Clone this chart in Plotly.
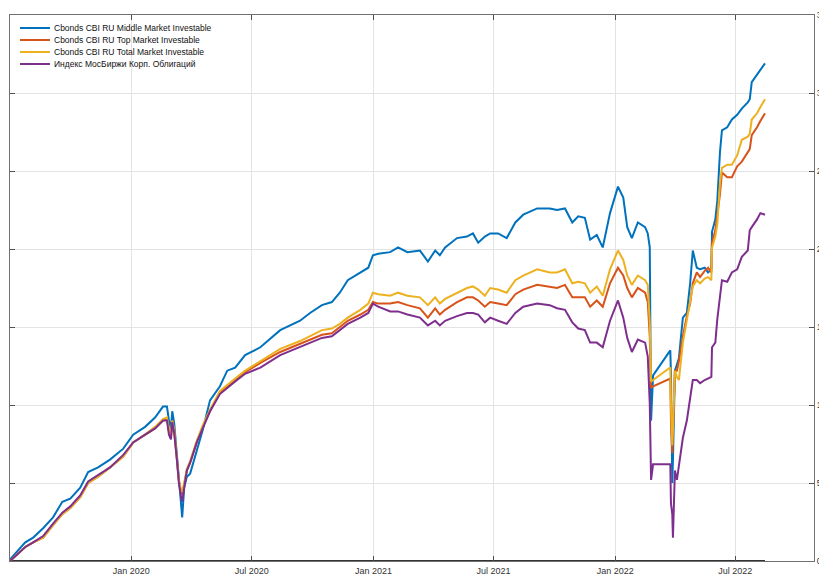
import plotly.graph_objects as go

dates = [
    "2019-07-02", "2019-07-25", "2019-08-06", "2019-08-21", "2019-09-05", "2019-09-19",
    "2019-10-01", "2019-10-16", "2019-10-28", "2019-11-12", "2019-11-30", "2019-12-20",
    "2020-01-04", "2020-01-22", "2020-02-06", "2020-02-18", "2020-02-24", "2020-02-27",
    "2020-03-01", "2020-03-03", "2020-03-06", "2020-03-10", "2020-03-13", "2020-03-16",
    "2020-03-18", "2020-03-21", "2020-03-25", "2020-03-30", "2020-04-09", "2020-04-18",
    "2020-04-29", "2020-05-14", "2020-05-25", "2020-06-06", "2020-06-21", "2020-07-14",
    "2020-08-13", "2020-09-12", "2020-09-27", "2020-10-15", "2020-10-30", "2020-11-11",
    "2020-11-23", "2020-12-12", "2020-12-24", "2020-12-31", "2021-01-08", "2021-01-26",
    "2021-02-07", "2021-02-21", "2021-03-12", "2021-03-24", "2021-04-04", "2021-04-11",
    "2021-04-19", "2021-05-07", "2021-05-22", "2021-05-31", "2021-06-08", "2021-06-18",
    "2021-06-26", "2021-07-08", "2021-07-21", "2021-08-03", "2021-08-15", "2021-09-05",
    "2021-09-24", "2021-10-05", "2021-10-17", "2021-10-28", "2021-11-06", "2021-11-16",
    "2021-11-24", "2021-12-04", "2021-12-13", "2021-12-24", "2022-01-05", "2022-01-13",
    "2022-01-19", "2022-01-26", "2022-02-04", "2022-02-15", "2022-02-19", "2022-02-22",
    "2022-02-24", "2022-02-27", "2022-03-25", "2022-03-26", "2022-03-28", "2022-03-29",
    "2022-04-01", "2022-04-04", "2022-04-07", "2022-04-13", "2022-04-19", "2022-04-24",
    "2022-04-28", "2022-05-04", "2022-05-09", "2022-05-16", "2022-05-21", "2022-05-26",
    "2022-05-27", "2022-06-01", "2022-06-04", "2022-06-08", "2022-06-11", "2022-06-19",
    "2022-06-26", "2022-07-04", "2022-07-11", "2022-07-20", "2022-07-23", "2022-07-26",
    "2022-08-03", "2022-08-08", "2022-08-15",
]

middle = [
    0.1, 1.2, 1.5, 2.1, 2.8, 3.8, 4.0, 4.7, 5.7, 6.0, 6.5, 7.2,
    8.1, 8.6, 9.2, 9.9, 9.9, 9.0, 8.5, 9.6, 8.8, 6.9, 5.0, 3.9,
    2.8, 4.7, 5.4, 5.6, 7.1, 8.4, 10.3, 11.2, 12.2, 12.4, 13.2, 13.7,
    14.8, 15.4, 15.9, 16.4, 16.6, 17.2, 18.0, 18.5, 18.8, 19.6, 19.7, 19.8,
    20.1, 19.8, 19.9, 19.2, 19.9, 19.6, 20.1, 20.7, 20.8, 21.0, 20.4, 20.8,
    21.0, 21.0, 20.7, 21.7, 22.2, 22.6, 22.6, 22.5, 22.6, 21.7, 22.1, 22.0,
    20.6, 20.9, 20.1, 22.3, 24.0, 23.3, 21.4, 20.7, 21.7, 21.4, 21.0, 20.1,
    9.0, 11.9, 13.5, 12.0, 5.0, 6.5, 12.2, 12.6, 13.0, 15.6, 15.9, 17.8,
    19.9, 18.8, 18.7, 18.8, 18.5, 18.7, 21.1, 21.9, 23.1, 26.2, 27.6, 27.8,
    28.3, 28.6, 29.0, 29.4, 29.6, 30.7, 31.2, 31.5, 31.9,
]

top = [
    0.0, 0.9, 1.2, 1.5, 2.3, 3.0, 3.4, 4.1, 5.0, 5.4, 6.0, 6.7,
    7.6, 8.1, 8.5, 9.0, 9.1, 8.3, 7.9, 9.0, 8.3, 6.5, 5.1, 4.5,
    4.3, 4.9, 5.8, 6.3, 7.6, 8.6, 9.6, 10.8, 11.2, 11.6, 12.1, 12.7,
    13.4, 13.9, 14.2, 14.5, 14.6, 15.0, 15.4, 15.8, 16.1, 16.6, 16.5, 16.5,
    16.6, 16.4, 16.2, 15.6, 16.2, 15.8, 16.1, 16.6, 16.9, 16.9, 16.7, 16.3,
    16.6, 16.5, 16.4, 17.1, 17.4, 17.7, 17.6, 17.5, 17.7, 16.9, 16.9, 16.9,
    16.3, 16.7, 16.3, 17.8, 18.8, 18.3, 17.5, 16.9, 17.5, 17.2, 16.6, 14.4,
    11.1, 11.2, 11.7, 9.0, 6.9, 8.0, 12.2, 12.2, 12.8, 14.4, 15.7, 16.5,
    17.8, 18.5, 18.2, 18.6, 18.8, 18.5, 20.4, 21.2, 22.1, 23.5, 24.9, 24.6,
    24.6, 25.3, 25.6, 26.2, 26.4, 27.3, 27.8, 28.2, 28.7,
]

total = [
    0.0, 0.9, 1.2, 1.5, 2.3, 3.0, 3.4, 4.1, 5.0, 5.4, 6.0, 6.7,
    7.6, 8.1, 8.6, 9.1, 9.2, 8.4, 8.0, 9.0, 8.4, 6.6, 5.2, 4.6,
    4.4, 5.0, 5.9, 6.4, 7.7, 8.7, 9.7, 10.9, 11.3, 11.7, 12.2, 12.8,
    13.6, 14.1, 14.4, 14.8, 14.9, 15.2, 15.6, 16.1, 16.5, 17.2, 17.1, 17.0,
    17.2, 17.0, 16.9, 16.4, 16.9, 16.5, 16.8, 17.2, 17.5, 17.6, 17.4, 17.0,
    17.5, 17.4, 17.2, 18.0, 18.3, 18.7, 18.5, 18.5, 18.7, 17.8, 17.9, 17.8,
    17.2, 17.6, 17.0, 18.7, 19.9, 19.3, 18.3, 17.7, 18.3, 18.0, 17.7, 15.3,
    11.5, 11.6, 12.4, 10.0, 7.4, 8.5, 12.2, 11.8, 11.6, 14.0, 15.5, 16.5,
    17.6, 18.0, 17.8, 18.1, 18.2, 18.0, 20.1, 20.8, 21.6, 24.2, 25.2, 25.4,
    25.4, 26.0, 27.0, 27.2, 27.4, 28.3, 28.7, 29.1, 29.6,
]

moex = [
    0.0, 0.9, 1.2, 1.6, 2.4, 3.1, 3.5, 4.2, 5.1, 5.5, 6.0, 6.8,
    7.6, 8.1, 8.5, 9.0, 9.0, 8.1, 7.8, 8.9, 8.2, 6.5, 5.0, 4.2,
    3.8, 4.7, 5.8, 6.3, 7.6, 8.5, 9.6, 10.7, 11.1, 11.5, 12.0, 12.4,
    13.2, 13.7, 14.0, 14.3, 14.4, 14.8, 15.2, 15.6, 15.9, 16.5, 16.3, 16.0,
    16.0, 15.8, 15.6, 15.1, 15.4, 15.1, 15.4, 15.7, 15.9, 15.9, 15.8, 15.3,
    15.6, 15.4, 15.2, 15.9, 16.3, 16.5, 16.4, 16.2, 16.1, 15.3, 14.9, 14.8,
    14.0, 14.0, 13.7, 15.4, 16.7, 15.6, 14.3, 13.4, 14.2, 14.0, 13.1, 10.1,
    5.2, 6.2, 6.2, 3.7, 3.0, 1.5, 5.8, 5.2, 6.0, 7.9, 9.0, 10.3,
    11.6, 11.6, 11.4, 11.6, 11.7, 11.8, 13.7, 14.0, 15.5, 17.0, 18.0, 17.9,
    18.5, 18.7, 19.5, 19.9, 21.2, 21.4, 21.9, 22.3, 22.2,
]

baseline_dates = [dates[0], dates[-1]]
baseline_vals = [0, 0]

names = [
    "Cbonds CBI RU Middle Market Investable",
    "Cbonds CBI RU Top Market Investable",
    "Cbonds CBI RU Total Market Investable",
    "Индекс МосБиржи Корп. Облигаций",
]
colors = ["#0072BD", "#D95319", "#EDB120", "#7E2F8E"]

x_tickvals = ["2020-01-01", "2020-07-01", "2021-01-01", "2021-07-01", "2022-01-01", "2022-07-01"]
x_ticktext = ["Jan 2020", "Jul 2020", "Jan 2021", "Jul 2021", "Jan 2022", "Jul 2022"]
y_tickvals = [0, 5, 10, 15, 20, 25, 30, 35]

FONT = "Liberation Sans, Arial, sans-serif"

fig = go.Figure()
fig.add_trace(go.Scatter(x=baseline_dates, y=baseline_vals, mode="lines",
                         line=dict(color="#333333", width=2), showlegend=False, hoverinfo="skip"))
for name, vals, col in zip(names, [middle, top, total, moex], colors):
    fig.add_trace(go.Scatter(x=dates, y=vals, mode="lines", name=name, showlegend=False,
                             line=dict(color=col, width=2)))

# compact MATLAB-style legend drawn in paper coordinates
legend_rows_y = [0.9762, 0.9542, 0.9322, 0.9103]
for name, col, yp in zip(names, colors, legend_rows_y):
    fig.add_shape(type="line", xref="paper", yref="paper", x0=0.0124, x1=0.0497, y0=yp, y1=yp,
                  line=dict(color=col, width=2))
    fig.add_annotation(xref="paper", yref="paper", x=0.0525, y=yp, text=name, showarrow=False,
                       xanchor="left", yanchor="middle",
                       font=dict(family=FONT, size=8.5, color="#111111"))

axis_common = dict(
    showline=True, linecolor="#707070", linewidth=1, mirror="ticks",
    ticks="inside", ticklen=5, tickcolor="#505050", tickwidth=1,
    showgrid=True, gridcolor="#e3e3e3", gridwidth=1, zeroline=False, automargin=False,
    tickfont=dict(family=FONT, size=9, color="#333333"),
)

# page has an 8px body margin; figure sized so the plot area matches the reference frame
fig.update_layout(
    width=819, height=567,
    margin=dict(l=2, r=13, t=7, b=14, autoexpand=False),
    paper_bgcolor="white", plot_bgcolor="white",
    font=dict(family=FONT, size=9, color="#222222"),
    xaxis=dict(range=["2019-07-02", "2022-10-28"], tickvals=x_tickvals, ticktext=x_ticktext,
               ticklabelstandoff=1, **axis_common),
    yaxis=dict(range=[0, 35], tickvals=y_tickvals, side="right", ticklabelstandoff=0,
               **{**axis_common, "tickfont": dict(family=FONT, size=8.5, color="#333333")}),
    showlegend=False,
)

fig.write_html("out.html")
